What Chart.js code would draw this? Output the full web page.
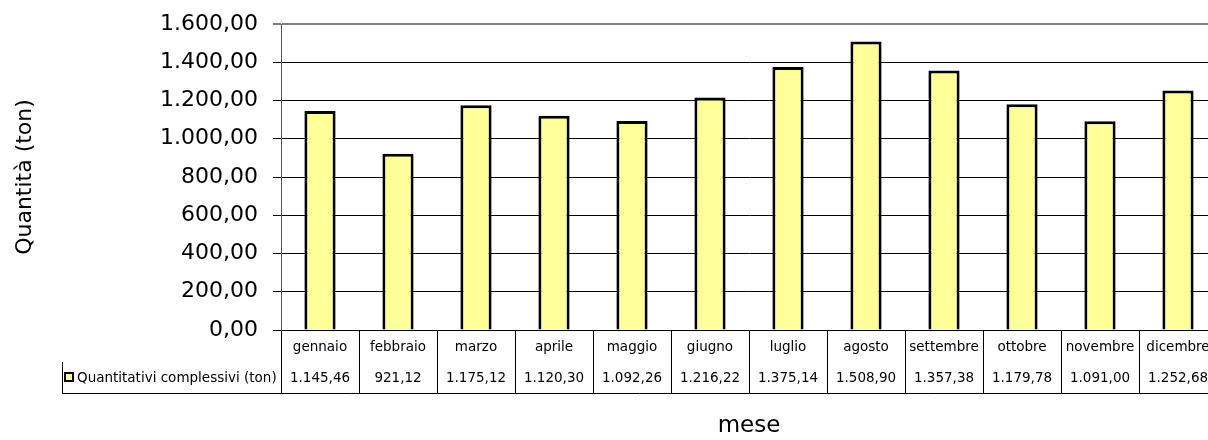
<!DOCTYPE html>
<html>
<head>
<meta charset="utf-8">
<script src="https://cdn.jsdelivr.net/npm/chart.js@4"></script>
<style>
  body { margin: 0; overflow: hidden; background: #fff; }
  #wrap { width: 1218px; height: 440px; }
</style>
</head>
<body>
<div id="wrap"><canvas id="myChart"></canvas></div>
<script>
// data
let mesi = ['gennaio', 'febbraio', 'marzo', 'aprile', 'maggio', 'giugno', 'luglio', 'agosto', 'settembre', 'ottobre', 'novembre', 'dicembre'];
let quantita = [1145.46, 921.12, 1175.12, 1120.30, 1092.26, 1216.22, 1375.14, 1508.90, 1357.38, 1179.78, 1091.00, 1252.68];
let serie_label = 'Quantitativi complessivi (ton)';
let y_ticks = [0, 200, 400, 600, 800, 1000, 1200, 1400, 1600];

const FONT = '"DejaVu Sans", Arial, sans-serif';

// 1600 -> "1.600,00"
function fmt_it(v) {
  let parts = v.toFixed(2).split('.');
  let int_part = parts[0].replace(/\B(?=(\d{3})+(?!\d))/g, '.');
  return int_part + ',' + parts[1];
}

// draws the data table under the x axis (month row, value row, legend cell)
const dataTable = {
  id: 'dataTable',
  afterDraw(chart) {
    const ctx = chart.ctx;
    const xs = chart.scales.x;
    const area = chart.chartArea;
    const step = xs.getPixelForValue(1) - xs.getPixelForValue(0);
    const top = area.bottom;
    const bottom = top + 63;
    const legendLeft = 62;
    ctx.save();
    ctx.strokeStyle = '#000';
    ctx.lineWidth = 1;
    ctx.beginPath();
    for (let i = 0; i <= mesi.length; i++) {
      let x = Math.round(xs.getPixelForValue(i) - step / 2) + 0.5;
      ctx.moveTo(x, top);
      ctx.lineTo(x, bottom);
    }
    ctx.moveTo(legendLeft + 0.5, top + 32);
    ctx.lineTo(legendLeft + 0.5, bottom);
    ctx.moveTo(legendLeft, bottom + 0.5);
    ctx.lineTo(area.right, bottom + 0.5);
    ctx.stroke();

    ctx.fillStyle = '#000';
    ctx.textAlign = 'center';
    ctx.textBaseline = 'middle';
    ctx.font = '13.5px ' + FONT;
    for (let i = 0; i < mesi.length; i++) {
      let x = xs.getPixelForValue(i);
      ctx.fillText(mesi[i], x, top + 17);
      ctx.fillText(fmt_it(quantita[i]), x, top + 48);
    }

    // legend key
    ctx.fillStyle = '#FFFF99';
    ctx.fillRect(65, top + 43, 8, 8);
    ctx.lineWidth = 2;
    ctx.strokeRect(65, top + 43, 8, 8);
    ctx.fillStyle = '#000';
    ctx.textAlign = 'left';
    ctx.fillText(serie_label, 77, top + 48);
    ctx.restore();
  }
};

var config = {
  type: 'bar',
  data: {
    labels: mesi,
    datasets: [{
      label: serie_label,
      data: quantita,
      backgroundColor: '#FFFF99',
      borderColor: '#000000',
      borderWidth: 3,
      barPercentage: 0.4,
      categoryPercentage: 1.0
    }]
  },
  options: {
    responsive: true,
    maintainAspectRatio: false,
    devicePixelRatio: 1,
    animation: false,
    layout: {
      padding: { left: 0, right: 1, top: 24, bottom: 0 }
    },
    plugins: {
      legend: { display: false },
      tooltip: { enabled: false }
    },
    scales: {
      x: {
        ticks: { display: false },
        grid: { display: false },
        border: { display: true, color: '#000', width: 1 },
        title: {
          display: true,
          text: 'mese',
          color: '#000',
          font: { family: FONT, size: 23 },
          padding: 0
        },
        afterFit: function(scale) {
          scale.height = 110;
          scale.paddingLeft = 0;
          scale.paddingRight = 0;
        }
      },
      y: {
        min: 0,
        max: 1600,
        afterBuildTicks: function(scale) {
          scale.ticks = y_ticks.map(function(v) { return { value: v }; });
        },
        ticks: {
          color: '#000',
          padding: 15,
          font: { family: FONT, size: 22 },
          callback: function(v) { return fmt_it(v); }
        },
        grid: {
          color: function(c) { return c.tick && c.tick.value === 1600 ? '#808080' : '#000'; },
          lineWidth: function(c) { return c.tick && c.tick.value === 1600 ? 2 : 1; },
          tickLength: 8
        },
        border: { display: true, color: '#555', width: 1 },
        title: {
          display: true,
          text: 'Quantità (ton)',
          color: '#000',
          font: { family: FONT, size: 22 },
          padding: { top: 12, bottom: 0 }
        },
        afterFit: function(scale) {
          scale.width = 281;
          scale.paddingTop = 0;
          scale.paddingBottom = 0;
        }
      }
    }
  },
  plugins: [dataTable]
};

var ctx = document.getElementById('myChart').getContext('2d');
window.myBar = new Chart(ctx, config);
</script>
</body>
</html>
